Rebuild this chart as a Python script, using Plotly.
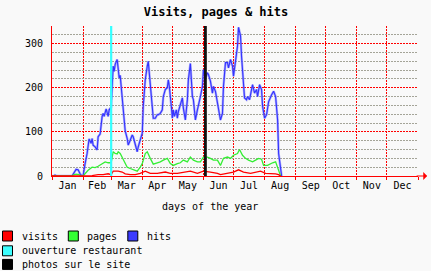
import plotly.graph_objects as go

# ---------------- data ----------------
months = ["Jan", "Feb", "Mar", "Apr", "May", "Jun", "Jul", "Aug", "Sep", "Oct", "Nov", "Dec"]
month_lengths = [31, 28, 31, 30, 31, 30, 31, 31, 30, 31, 30, 31]

hits_days = [0, 2, 3, 5, 20, 22, 24, 26, 28, 30, 31, 33, 35, 37, 39, 40, 41, 43, 45, 46, 48, 50, 51, 52, 54, 56, 57, 59,
             61, 62, 63, 65, 66, 67, 68, 70, 71, 73, 75, 76, 78, 80, 81, 83, 85, 86, 88, 90, 91, 93, 95, 96, 97, 99,
             100, 101, 103, 105, 106, 108, 110, 111, 113, 115, 116, 117, 119, 120, 121, 122, 124, 125, 126, 128, 130,
             131, 133, 135, 136, 138, 139, 140, 141, 143, 145, 146, 148, 150, 151, 153, 155, 156, 158, 160, 161, 163,
             165, 166, 168, 170, 171, 173, 175, 176, 178, 180, 181, 183, 185, 186, 188, 189, 191, 192, 194, 195, 197,
             199, 200, 202, 204, 205, 207, 209, 210, 212, 214, 216, 218, 219, 221, 223, 225, 226, 229]
hits_vals = [0, 0, 2, 0, 0, 8, 15, 14, 5, 0, 0, 28, 51, 84, 74, 85, 70, 66, 59, 89, 95, 135, 142, 135, 152, 135, 150, 156,
             249, 237, 253, 264, 245, 222, 228, 176, 138, 102, 85, 70, 81, 93, 89, 70, 55, 66, 81, 97, 158, 218, 249, 260,
             234, 180, 142, 131, 131, 139, 139, 142, 150, 180, 196, 200, 218, 203, 158, 131, 150, 135, 150, 131, 146, 165,
             177, 154, 127, 173, 218, 255, 222, 180, 173, 127, 150, 158, 180, 203, 241, 222, 234, 230, 215, 188, 203,
             192, 165, 158, 127, 142, 203, 257, 257, 245, 264, 249, 226, 260, 295, 337, 318, 272, 203, 177, 173, 180,
             173, 192, 207, 188, 196, 180, 207, 196, 158, 131, 139, 168, 180, 184, 192, 180, 127, 51, 0]

pages_days = [0, 20, 21, 24, 27, 29, 31, 33, 36, 40, 43, 46, 50, 53, 56, 59, 61, 63, 65, 66, 68, 70, 71, 75, 78, 81, 85,
              88, 90, 93, 95, 98, 101, 105, 108, 111, 115, 118, 121, 125, 128, 131, 135, 138, 141, 145, 148, 151, 155,
              158, 161, 165, 168, 171, 175, 178, 181, 185, 187, 190, 193, 196, 200, 203, 206, 209, 211, 215, 218, 220,
              223, 225, 228]
pages_vals = [0, 0, 2, 4, 3, 0, 0, 5, 13, 20, 19, 22, 28, 32, 30, 30, 55, 51, 50, 55, 51, 43, 36, 20, 17, 15, 11,
              20, 28, 51, 55, 40, 27, 30, 32, 36, 40, 28, 24, 28, 30, 36, 32, 43, 36, 32, 32, 43, 43,
              40, 36, 36, 24, 40, 43, 40, 47, 51, 60, 47, 40, 36, 32, 36, 40, 38, 24, 24, 28, 30,
              32, 17, 0]

visits_days = [0, 30, 33, 40, 46, 51, 56, 59, 61, 66, 70, 73, 78, 83, 88, 93, 98, 105, 113, 118, 125, 131, 138, 145,
               151, 158, 165, 168, 175, 181, 186, 191, 198, 203, 208, 213, 218, 223, 226, 228]
visits_vals = [0, 0, 1, 1, 3, 3, 5, 3, 11, 11, 9, 5, 3, 3, 6, 11, 6, 6, 9, 6, 6, 9, 11, 6,
               11, 9, 6, 3, 6, 9, 14, 9, 6, 9, 11, 6, 6, 5, 3, 0]

event_names = ["ouverture restaurant", "photos sur le site"]
event_days = [59, 153]

series_names = ["visits", "pages", "hits"]

y_major = [0, 100, 200, 300]
y_max = 340

# ---------------- styling ----------------
BG = "#f9f9f9"
FONT = "DejaVu Sans Mono"
RED = "#ff0000"
GREEN = "#33ee33"
BLUE = "#3333ff"
CYAN = "#33ffff"
BLACK = "#000000"
FW, FH = 431, 271
L, T, W, H = 52, 26, 366, 150


def px2x(p):
    return (p - L) / W


def py2y(p):
    return (T + H - p) / H


month_starts = [sum(month_lengths[:i]) for i in range(13)]
month_mids = [month_starts[i] + month_lengths[i] / 2 for i in range(12)]

fig = go.Figure()

# hits with a light halo (anti-aliasing look)
fig.add_trace(go.Scatter(x=hits_days, y=hits_vals, mode="lines", name=series_names[2],
                         line=dict(color="rgba(110,110,255,0.55)", width=2.4), showlegend=False, hoverinfo="skip"))
fig.add_trace(go.Scatter(x=hits_days, y=hits_vals, mode="lines", name=series_names[2],
                         line=dict(color=BLUE, width=1.1), showlegend=False))
fig.add_trace(go.Scatter(x=pages_days, y=pages_vals, mode="lines", name=series_names[1],
                         line=dict(color=GREEN, width=1.3), showlegend=False))
fig.add_trace(go.Scatter(x=visits_days, y=visits_vals, mode="lines", name=series_names[0],
                         line=dict(color=RED, width=1.3), showlegend=False))

event_colors = [CYAN, "#111111"]
event_widths = [2.2, 2.8]
for d, c, w, n in zip(event_days, event_colors, event_widths, event_names):
    fig.add_trace(go.Scatter(x=[d, d], y=[0, y_max], mode="lines", name=n,
                             line=dict(color=c, width=w), showlegend=False))

# rrdtool-style legend below the chart: swatch + label
legend_items = [(series_names[0], RED), (series_names[1], "#33ff33"), (series_names[2], "#3a3aff"),
                (event_names[0], "#3cffff"), (event_names[1], BLACK)]
legend_slots = [(2.5, 236), (68.3, 236), (127.8, 236), (2.5, 250.8), (2.5, 264.4)]
shapes = []
annotations = []
for (name, col), (sx, cy) in zip(legend_items, legend_slots):
    shapes.append(dict(type="rect", xref="paper", yref="paper",
                       x0=px2x(sx), x1=px2x(sx + 10), y0=py2y(cy + 5), y1=py2y(cy - 5),
                       fillcolor=col, line=dict(color="black", width=1), layer="above"))
    annotations.append(dict(text=name, x=px2x(sx + 17), y=py2y(cy), xref="paper", yref="paper",
                            xanchor="left", yanchor="middle", showarrow=False,
                            font=dict(family=FONT, size=10, color="black")))

annotations += [
    dict(x=1.025, y=0, xref="paper", yref="paper", ax=-12, ay=0, axref="pixel", ayref="pixel",
         showarrow=True, arrowhead=1, arrowsize=1.3, arrowwidth=1, arrowcolor=RED, text=""),
    dict(text="days of the year", x=px2x(210), y=py2y(207), xref="paper", yref="paper",
         xanchor="center", yanchor="middle", showarrow=False, font=dict(family=FONT, size=10)),
]

fig.update_layout(
    width=FW, height=FH,
    margin=dict(l=L, r=FW - L - W, t=T, b=FH - T - H, autoexpand=False),
    paper_bgcolor=BG, plot_bgcolor=BG,
    font=dict(family=FONT, size=10, color="black"),
    showlegend=False,
    title=dict(text="<b>Visits, pages & hits</b>", x=216 / FW, xref="container", xanchor="center",
               y=1 - 12 / FH, yref="container", yanchor="middle",
               font=dict(family=FONT, size=12, color="black")),
    xaxis=dict(range=[0, 365], tickmode="array", tickvals=month_mids, ticktext=months,
               ticks="", showgrid=False, zeroline=False, automargin=False,
               showline=True, linecolor=RED, linewidth=1,
               tickfont=dict(family=FONT, size=10),
               minor=dict(tickmode="array", tickvals=month_starts, showgrid=True, gridcolor=RED,
                          griddash="2px,1px", gridwidth=1, ticks="outside", ticklen=3, tickcolor=RED),
               fixedrange=True),
    yaxis=dict(range=[0, y_max], tickmode="array", tickvals=y_major, ticks="",
               showgrid=True, gridcolor=RED, griddash="2px,1px", gridwidth=1, automargin=False,
               zeroline=False, showline=True, linecolor=RED, linewidth=1,
               tickfont=dict(family=FONT, size=10), ticklabelstandoff=6,
               minor=dict(dtick=20, tick0=0, showgrid=True, gridcolor="#a4a498",
                          griddash="2px,1px", gridwidth=1),
               fixedrange=True),
    shapes=shapes,
    annotations=annotations,
)

fig.write_html("out.html")
